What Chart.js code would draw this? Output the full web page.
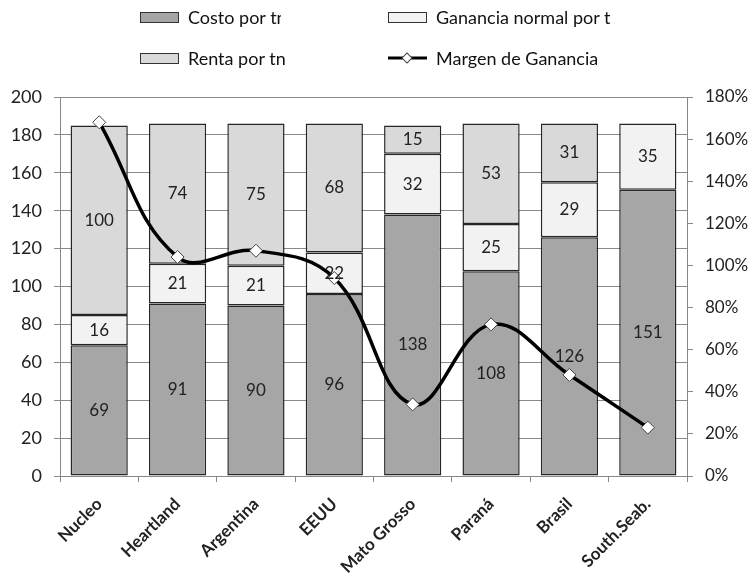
<!DOCTYPE html>
<html>
<head>
<meta charset="utf-8">
<script src="https://cdn.jsdelivr.net/npm/chart.js@4.4.0/dist/chart.umd.min.js"></script>
<style>
  body { margin: 0; background: #fff; }
  #wrap { position: relative; width: 755px; height: 582px; }
  #legend { position: absolute; top: 0; left: 0; width: 755px; height: 80px;
            font-family: Lato, sans-serif; font-size: 18px; color: #111; }
  .item { position: absolute; height: 22px; display: flex; align-items: center;
          white-space: nowrap; overflow: hidden; }
  .box { flex: none; width: 37px; height: 9px; border: 1px solid #333; margin-right: 9px; }
  .sym { flex: none; margin-right: 9px; }
</style>
</head>
<body>
<div id="wrap">
  <canvas id="chart" width="755" height="582"></canvas>
  <div id="legend">
    <div class="item" style="left:140px; top:6px; width:141px;">
      <span class="box" style="background:#a6a6a6"></span>Costo por tn</div>
    <div class="item" style="left:388px; top:6px; width:223px;">
      <span class="box" style="background:#f2f2f2"></span>Ganancia normal por tn</div>
    <div class="item" style="left:140px; top:47px; width:200px;">
      <span class="box" style="background:#d9d9d9"></span>Renta por tn</div>
    <div class="item" style="left:388px; top:47px; width:250px;">
      <svg class="sym" width="39" height="14" viewBox="0 0 39 14">
        <line x1="0" y1="7" x2="39" y2="7" stroke="#000" stroke-width="3"/>
        <rect x="15.5" y="3.5" width="7" height="7" fill="#fff" stroke="#444" stroke-width="1" transform="rotate(45 19 7)"/>
      </svg>Margen de Ganancia</div>
  </div>
</div>
<script>
const categorias = ["Nucleo", "Heartland", "Argentina", "EEUU", "Mato Grosso", "Paraná", "Brasil", "South.Seab."];
const costo = [69, 91, 90, 96, 138, 108, 126, 151];
const ganancia = [16, 21, 21, 22, 32, 25, 29, 35];
const renta = [100, 74, 75, 68, 15, 53, 31, 0];
const margen = [168, 104, 107, 94, 34, 72, 48, 23];

// numbers in the middle of each bar segment, drawn over everything
const etiquetas = {
  id: "etiquetas",
  afterDatasetsDraw(chart) {
    const ctx = chart.ctx;
    ctx.save();
    ctx.font = "17px Lato";
    ctx.fillStyle = "#222";
    ctx.textAlign = "center";
    ctx.textBaseline = "middle";
    chart.data.datasets.forEach((ds, k) => {
      if (ds.type === "line") return;
      chart.getDatasetMeta(k).data.forEach((bar, i) => {
        const v = ds.data[i];
        if (!v) return;
        const p = bar.getProps(["x", "y", "base"], true);
        ctx.fillText(v, p.x, (p.y + p.base) / 2);
      });
    });
    ctx.restore();
  }
};

const barra = {
  type: "bar",
  borderColor: "#262626",
  borderWidth: 1.5,
  borderSkipped: false,
  barPercentage: 0.73,
  categoryPercentage: 1,
  yAxisID: "y",
  order: 1
};

new Chart(document.getElementById("chart"), {
  data: {
    labels: categorias,
    datasets: [
      { ...barra, label: "Costo por tn", data: costo, backgroundColor: "#a6a6a6" },
      { ...barra, label: "Ganancia normal por tn", data: ganancia, backgroundColor: "#f2f2f2" },
      { ...barra, label: "Renta por tn", data: renta, backgroundColor: "#d9d9d9" },
      {
        type: "line",
        label: "Margen de Ganancia",
        data: margen,
        yAxisID: "y1",
        borderColor: "#000",
        borderWidth: 3.5,
        tension: 0.4,
        pointStyle: "rectRot",
        pointRadius: 6.5,
        pointBackgroundColor: "#fff",
        pointBorderColor: "#444",
        pointBorderWidth: 1,
        order: 0
      }
    ]
  },
  options: {
    responsive: false,
    animation: false,
    devicePixelRatio: 1,
    layout: { padding: { top: 97, left: 0, right: 0, bottom: 0 } },
    plugins: { legend: { display: false }, tooltip: { enabled: false } },
    scales: {
      x: {
        stacked: true,
        grid: { offset: true, drawOnChartArea: false, tickLength: 6, color: "#888" },
        border: { color: "#888" },
        ticks: {
          minRotation: 45, maxRotation: 45, padding: 12,
          font: { family: "Lato", size: 17, weight: "bold" }, color: "#222"
        },
        afterFit(s) { s.height = 106; }
      },
      y: {
        stacked: true,
        min: 0, max: 200,
        grid: { color: "#8a8a8a", tickLength: 6 },
        border: { color: "#888" },
        ticks: { stepSize: 20, padding: 12, font: { family: "Lato", size: 18 }, color: "#222" },
        afterFit(s) { s.width = 60; }
      },
      y1: {
        position: "right",
        min: 0, max: 180,
        grid: { drawOnChartArea: false, tickLength: 6, color: "#888" },
        border: { color: "#888" },
        ticks: {
          stepSize: 20, padding: 12, font: { family: "Lato", size: 17 }, color: "#222",
          callback: v => v + "%"
        },
        afterFit(s) { s.width = 68; }
      }
    }
  },
  plugins: [etiquetas]
});
</script>
</body>
</html>
